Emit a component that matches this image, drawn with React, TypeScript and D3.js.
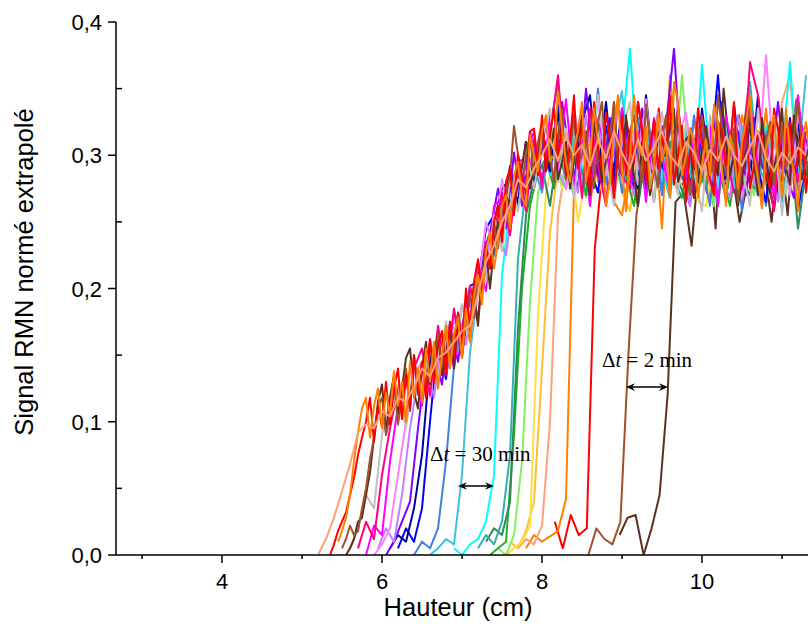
import React from 'react';
import * as d3 from 'd3';

// x position (cm) of the first sample of each curve, and the sample spacing of each curve
const starts = [5.2, 5.35, 5.45, 5.5, 5.55, 5.6, 5.7, 5.8, 5.9, 5.95, 6.05, 6.1, 6.2, 6.4, 6.6, 6.9, 7.2, 7.3, 7.35, 7.45, 7.55, 7.6, 7.7, 7.8, 8.16, 8.58, 8.97];
const steps = [0.1, 0.05, 0.05, 0.05, 0.05, 0.1, 0.1, 0.1, 0.1, 0.1, 0.1, 0.1, 0.1, 0.1, 0.1, 0.1, 0.1, 0.1, 0.1, 0.1, 0.1, 0.1, 0.1, 0.1, 0.1, 0.1, 0.1];
const colors = ['#FFA07A', '#FF0000', '#FF8000', '#A0522D', '#5C3020', '#C0C0C0', '#FF0080', '#FF00FF', '#FF80FF', '#C080FF', '#8000FF', '#0000A0', '#0000FF', '#4080E0', '#40C0E0', '#00FFFF', '#30B0B0', '#2E8B57', '#20B020', '#80F060', '#FFE040', '#FFC030', '#FFA07A', '#FF8000', '#FF0000', '#A0522D', '#5C3020'];
// painting order (last is on top)
const drawOrder = [26, 25, 24, 23, 22, 21, 20, 19, 18, 17, 16, 15, 14, 13, 12, 11, 10, 9, 8, 7, 6, 5, 4, 3, 1, 2, 0];

// values in thousandths of the normalised signal
const s01 = [0,12,28,48,68,92,98,95,108,104,118,115,126,140,134,148,152,160,168,172,196,220,232,250,262,282,276,290,300,312,296,315,300,308,292,312,298,318,302,290,312,296,306,318,300,292,310,302,288,304,296,314,300,292,306,318,298,288,302,294,306,300];
const s02 = [
  0,8,18,25,32,45,58,75,88,100,118,85,112,96,130,98,125,140,102,135,
  110,150,122,145,118,162,130,158,168,135,175,148,182,158,200,170,205,222,195,232,
  215,250,262,235,280,290,255,300,285,270,318,320,285,330,290,315,335,300,322,285,
  310,345,290,325,298,275,340,305,290,332,312,268,300,330,285,318,295,340,318,280,
  305,326,290,312,300,345,278,300,322,265,305,290,335,310,298,282,270,325,318,292,
  305,340,285,300,330,275,292,318,312,285,276,335,320,290,298,325,285,300,316,272,
  300];
const s03 = [
  10,18,28,45,70,92,110,118,88,112,125,95,122,105,138,112,130,100,145,118,
  140,115,155,130,160,125,150,172,140,165,178,148,185,160,195,210,188,228,242,215,
  235,262,270,245,285,295,268,262,315,300,288,318,330,296,300,348,320,295,280,305,
  318,340,280,298,335,310,305,262,282,320,345,290,258,300,345,310,300,322,275,290,
  330,296,310,268,355,340,285,300,320,310,268,292,312,285,338,325,290,262,315,300,
  275,310,325,345,300,282,260,305,318,330,295,270,335,300,288,258,312,325,296,310];
const s04 = [
  5,12,22,15,18,35,50,72,88,112,118,90,105,128,98,118,140,108,150,120,
  145,125,160,138,165,142,170,148,160,180,155,175,195,178,212,205,232,215,248,230,
  262,270,285,322,300,278,300,315,285,310,325,295,298,280,315,335,282,300,330,292,
  300,318,288,275,325,340,296,312,340,295,285,305,318,330,300,280,338,310,290,276,
  312,330,280,295,335,312,305,270,290,318,328,300,300,285,345,320,285,300,320,265,
  296,310,335,300,288,262,310,325,278,300,325,290,300,315,340,305,295,280,300,312];
const s05 = [
  0,5,12,25,28,45,62,88,115,128,92,118,135,105,125,148,155,122,110,140,
  160,128,152,165,135,150,170,140,175,158,185,162,195,172,210,228,200,232,250,240,
  270,262,258,280,292,310,275,290,305,322,288,300,320,282,295,310,275,298,312,330,
  290,270,325,305,280,296,305,340,292,285,330,300,285,262,310,295,270,290,318,300,
  300,322,335,280,290,312,315,268,280,305,322,300,298,285,340,310,285,300,262,280,
  310,322,295,270,328,300,272,290,305,335,290,278,330,300,282,298,308,285,320,300];
const s06 = [5,20,45,35,90,115,128,95,148,120,160,132,175,145,188,160,212,205,255,228,282,258,305,275,312,
  335,280,320,268,318,290,345,295,262,318,340,278,310,265,332,298,270,325,288,258,330,300,272,325,290,262,335,285,318,255,305,268,295];
const s07 = [5,25,12,60,95,125,98,140,155,120,172,135,185,148,202,178,235,238,272,240,295,258,312,
  280,315,360,285,330,268,335,292,262,328,285,275,340,302,265,322,280,335,292,268,330,285,318,300,272,278,370,345,290,258,325,300,280,318];
const s08 = [0,22,15,70,112,130,145,112,162,128,172,140,188,162,218,198,262,268,242,295,298,318,
  275,330,292,342,278,318,262,325,305,270,335,285,318,265,328,300,272,338,282,312,290,322,262,330,298,275,340,290,315,268,325,285,345,292];
const s09 = [0,8,20,60,100,135,145,118,165,135,178,160,195,200,250,228,282,248,302,268,312,
  280,322,290,275,335,300,278,345,285,322,280,318,290,342,282,320,275,312,332,285,325,278,318,288,330,268,300,290,375,292,322,270,330,300];
const s10 = [5,20,10,45,95,132,148,118,165,142,182,158,202,195,238,240,225,270,295,278,305,
  325,280,318,290,272,330,288,318,278,338,292,270,325,288,332,280,315,296,262,325,290,335,282,268,330,300,278,322,290,265,328,290,315,300];
const s11 = [0,10,25,40,95,145,152,128,175,145,190,185,225,242,275,245,302,262,318,285,
  325,280,340,298,275,350,292,278,328,285,320,272,335,290,278,322,380,288,262,325,292,275,332,285,318,270,328,292,280,340,285,268,322,300];
const s12 = [5,15,10,35,75,145,162,135,180,150,195,205,232,250,275,282,265,310,278,
  320,288,332,292,278,325,345,285,340,280,322,292,275,345,285,318,278,328,292,270,335,288,318,272,338,290,280,345,285,260,308,292,325,280];
const s13 = [5,20,10,35,100,162,132,182,155,202,205,245,255,240,292,262,310,275,
  320,288,338,292,280,328,290,272,322,288,335,280,312,275,325,292,280,332,290,272,320,292,360,282,318,272,328,290,265,318,280,328,258,298];
const s14 = [0,10,5,20,70,142,172,180,208,210,225,245,260,292,270,308,
  282,320,355,292,270,328,285,350,280,318,272,305,328,280,312,270,322,288,278,330,292,262,320,285,312,258,328,290,262,312,280,325,272,305];
const s15 = [0,5,12,8,60,152,198,222,248,262,282,262,302,280,
  315,285,328,280,312,275,330,292,278,322,348,285,272,320,292,280,328,285,318,272,305,325,282,312,275,322,290,270,318,292,280,322,295,360];
const s16 = [5,0,8,12,25,60,210,262,288,265,302,
  278,318,290,275,322,292,280,328,295,280,318,380,290,275,320,285,272,312,290,280,368,292,275,318,285,268,312,280,322,275,298,370,285,305];
const s17 = [5,15,8,25,75,222,278,292,
  272,312,288,275,320,290,280,322,292,272,312,285,318,275,305,290,268,322,288,275,315,292,262,318,285,272,355,292,280,318,265,300,288,295];
const s18 = [10,20,15,40,170,255,282,
  292,262,305,282,312,288,270,310,290,275,315,285,262,302,288,278,310,282,265,300,312,280,292,268,305,282,270,308,286,262,295,310,245,290];
const s19 = [0,5,10,90,200,262,288,
  298,275,312,285,302,270,318,290,275,310,285,262,305,292,278,315,282,268,308,290,275,312,285,262,302,288,275,310,282,268,305,290,278,298];
const s20 = [5,0,15,70,190,272,
  288,305,278,318,290,268,310,295,325,282,302,272,315,290,275,308,285,360,288,272,305,262,300,282,315,288,270,310,285,298,272,305,290,300];
const s21 = [0,5,10,22,180,
  272,298,275,305,250,285,310,272,300,285,265,308,280,302,275,292,315,280,298,265,262,300,278,305,272,290,282,305,268,298,285,272,300,288];
const s22 = [10,5,18,40,
  140,242,292,305,275,310,262,305,280,315,272,258,305,280,310,272,302,285,315,275,300,280,265,308,288,272,300,282,310,268,302,285,308,280];
const s23 = [5,12,8,
  22,100,255,295,305,278,315,288,310,282,302,318,278,305,288,312,275,302,285,315,288,275,310,292,318,282,305,275,310,288,340,360,282,305];
const s24 = [5,15,10,14,18,42,275,305,325,280,312,265,255,292,310,275,320,245,360,292,280,325,300,268,318,295,280,330,298,285,335,262,312,290,322,298];
const s25 = [25,5,30,15,20,230,292,315,290,325,280,308,295,335,285,312,278,320,298,272,325,300,285,330,295,278,315,300,268,320,290,308,285];
const s26 = [0,20,12,8,25,150,255,298,315,280,302,325,288,310,278,315,295,285,320,298,350,290,312,280,308,295,342,298,305];
const s27 = [15,28,30,0,20,45,120,265,272,232,300,318,245,350,290,250,280,320,295,250,310,255,325,280,300];

const series = [s01, s02, s03, s04, s05, s06, s07, s08, s09, s10, s11, s12, s13, s14, s15, s16, s17, s18, s19, s20, s21, s22, s23, s24, s25, s26, s27];

const xMajorTicks = [4, 6, 8, 10];
const xMinorTicks = [3, 5, 7, 9, 11];
const yMajorTicks = [0, 0.1, 0.2, 0.3, 0.4];
const yMinorTicks = [0.05, 0.15, 0.25, 0.35];
const yTickLabels = ['0,0', '0,1', '0,2', '0,3', '0,4'];

// annotations
const annoMinutes = [30, 2];
const annoTextX = [6.6, 8.75];
const annoTextY = [0.0705, 0.141];
const arrowX1 = [6.95, 9.05];
const arrowX2 = [7.4, 9.575];
const arrowY = [0.0518, 0.126];

const W = 808;
const H = 628;
const left = 116;
const right = 808;
const top = 22;
const bottom = 555;

export default function App() {
  const x = d3.scaleLinear().domain([2.675, 11.325]).range([left, right]);
  const y = d3.scaleLinear().domain([0, 0.4]).range([bottom, top]);
  const sans = '"Liberation Sans", Arial, Helvetica, sans-serif';
  const serif = '"Liberation Serif", "Times New Roman", Times, serif';

  const lines = series.map((vals, k) => {
    const x0 = starts[k];
    const st = steps[k];
    const gen = d3
      .line<number>()
      .x((_, i) => x(x0 + st * i))
      .y((d) => y(d / 1000));
    return { d: gen(vals) || '', color: colors[k] };
  });

  const arrowHead = (px: number, py: number, dir: number) => {
    const L = 9;
    const w = 3.8;
    const n = 6;
    return `M${px},${py} L${px + dir * L},${py - w} L${px + dir * n},${py} L${px + dir * L},${py + w} Z`;
  };

  return (
    <svg width={W} height={H} style={{ position: 'absolute', left: 0, top: 0, background: '#fff' }}>
      <defs>
        <clipPath id="plotclip">
          <rect x={left} y={0} width={right - left} height={bottom} />
        </clipPath>
      </defs>
      <rect x={0} y={0} width={W} height={H} fill="#fff" />
      <g clipPath="url(#plotclip)">
        {drawOrder.map((k) => (
          <path key={k} d={lines[k].d} fill="none" stroke={lines[k].color} strokeWidth={2} strokeLinejoin="round" />
        ))}
      </g>

      <g stroke="#000" strokeWidth={1.5} fill="none">
        <line x1={left} y1={top} x2={left} y2={bottom} />
        <line x1={left} y1={bottom} x2={right} y2={bottom} />
        {yMajorTicks.map((t) => (
          <line key={'ym' + t} x1={left - 8} y1={y(t)} x2={left} y2={y(t)} />
        ))}
        {yMinorTicks.map((t) => (
          <line key={'yn' + t} x1={left} y1={y(t)} x2={left + 6} y2={y(t)} />
        ))}
        {xMajorTicks.map((t) => (
          <line key={'xm' + t} x1={x(t)} y1={bottom} x2={x(t)} y2={bottom + 8} />
        ))}
        {xMinorTicks.map((t) => (
          <line key={'xn' + t} x1={x(t)} y1={bottom} x2={x(t)} y2={bottom + 4} />
        ))}
      </g>

      <g fontFamily={sans} fontSize={22} fill="#000">
        {yMajorTicks.map((t, i) => (
          <text key={'yl' + t} x={left - 14} y={y(t) + 8} textAnchor="end">
            {yTickLabels[i]}
          </text>
        ))}
        {xMajorTicks.map((t) => (
          <text key={'xl' + t} x={x(t)} y={589} textAnchor="middle">
            {String(t)}
          </text>
        ))}
      </g>

      <text x={458} y={616} textAnchor="middle" fontFamily={sans} fontSize={25.5}>
        Hauteur (cm)
      </text>
      <text transform={`translate(33,272) rotate(-90)`} textAnchor="middle" fontFamily={sans} fontSize={25.5}>
        Signal RMN normé extrapolé
      </text>

      {annoMinutes.map((m, i) => (
        <g key={'an' + i}>
          <text x={x(annoTextX[i])} y={y(annoTextY[i])} fontFamily={serif} fontSize={21} fill="#000" xmlSpace="preserve">
            <tspan>Δ</tspan>
            <tspan fontStyle="italic">t</tspan>
            <tspan> = {m} min</tspan>
          </text>
          <line
            x1={x(arrowX1[i]) + 4}
            x2={x(arrowX2[i]) - 4}
            y1={y(arrowY[i])}
            y2={y(arrowY[i])}
            stroke="#000"
            strokeWidth={1.5}
          />
          <path d={arrowHead(x(arrowX1[i]), y(arrowY[i]), 1)} fill="#000" />
          <path d={arrowHead(x(arrowX2[i]), y(arrowY[i]), -1)} fill="#000" />
        </g>
      ))}
    </svg>
  );
}
